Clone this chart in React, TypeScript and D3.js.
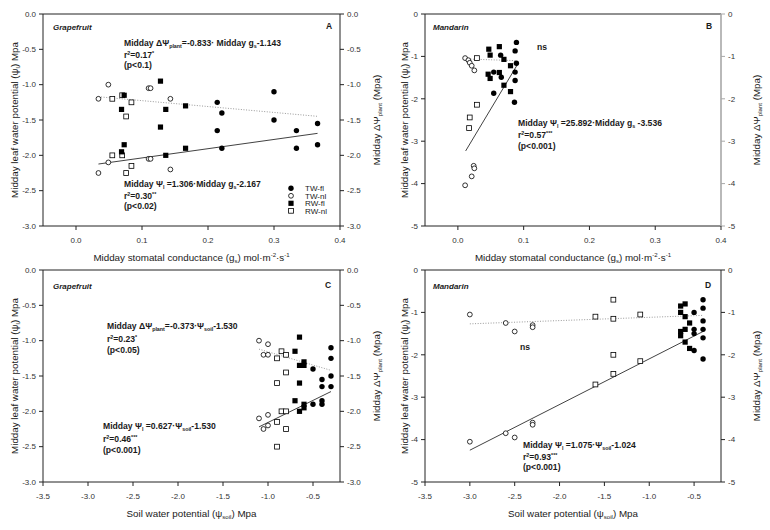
import React from "react";
import * as d3 from "d3";

type Pt = [number, number];

// ---------- axis ticks ----------
const gsTicks = [0, 0.1, 0.2, 0.3, 0.4];
const soilTicks = [-3.5, -3.0, -2.5, -2.0, -1.5, -1.0, -0.5];
const grapeYTicks = [0, -0.5, -1, -1.5, -2, -2.5, -3];
const mandYTicks = [0, -1, -2, -3, -4, -5];

// ---------- Panel A: Grapefruit vs midday gs ----------
const aTWfl: Pt[] = [[0.214, -1.25], [0.221, -1.4], [0.3, -1.1], [0.3, -1.5], [0.334, -1.65], [0.366, -1.55], [0.214, -1.65], [0.221, -1.9], [0.334, -1.9], [0.366, -1.85]];
const aTWnl: Pt[] = [[0.034, -1.2], [0.049, -1.0], [0.11, -1.05], [0.113, -1.05], [0.143, -1.2], [0.049, -2.1], [0.034, -2.25], [0.11, -2.05], [0.113, -2.05], [0.143, -2.2]];
const aRWfl: Pt[] = [[0.073, -1.15], [0.069, -1.35], [0.128, -0.95], [0.136, -1.35], [0.166, -1.3], [0.128, -1.6], [0.073, -1.85], [0.069, -1.95], [0.136, -2.0], [0.166, -1.9]];
const aRWnl: Pt[] = [[0.055, -1.2], [0.07, -1.15], [0.084, -1.25], [0.076, -1.45], [0.055, -2.0], [0.07, -2.0], [0.084, -2.15], [0.076, -2.25]];
const aFitSolid: Pt[] = [[0.034, -2.123], [0.366, -1.689]];
const aFitDotted: Pt[] = [[0.034, -1.171], [0.366, -1.448]];

// ---------- Panel B: Mandarin vs midday gs ----------
const bTWfl: Pt[] = [[0.089, -0.67], [0.087, -0.87], [0.089, -1.16], [0.087, -1.37], [0.087, -1.57], [0.086, -2.08], [0.065, -0.97], [0.066, -1.49], [0.0545, -1.37], [0.0545, -1.87]];
const bTWnl: Pt[] = [[0.011, -1.04], [0.016, -1.09], [0.018, -1.15], [0.021, -1.22], [0.025, -1.33], [0.024, -3.58], [0.025, -3.64], [0.021, -3.83], [0.011, -4.04]];
const bRWfl: Pt[] = [[0.047, -0.83], [0.049, -0.97], [0.063, -0.77], [0.07, -1.07], [0.08, -1.22], [0.046, -1.42], [0.049, -1.52], [0.063, -1.38], [0.07, -1.68], [0.08, -1.83]];
const bRWnl: Pt[] = [[0.029, -1.04], [0.029, -2.14], [0.018, -2.44], [0.017, -2.69]];
const bFitSolid: Pt[] = [[0.0118, -3.23], [0.0902, -1.2]];
const bFitDotted: Pt[] = [[0.011, -1.06], [0.089, -1.1]];

// ---------- Panel C: Grapefruit vs soil water potential ----------
const cTWfl: Pt[] = [[-0.3, -1.1], [-0.3, -1.25], [-0.5, -1.4], [-0.4, -1.55], [-0.4, -1.65], [-0.3, -1.5], [-0.3, -1.65], [-0.5, -1.9], [-0.4, -1.85], [-0.4, -1.9]];
const cTWnl: Pt[] = [[-1.1, -1.0], [-1.0, -1.05], [-1.05, -1.2], [-1.0, -1.2], [-1.1, -2.1], [-1.0, -2.05], [-1.05, -2.25], [-1.0, -2.2]];
const cRWfl: Pt[] = [[-0.65, -0.95], [-0.7, -1.15], [-0.65, -1.35], [-0.6, -1.3], [-0.6, -1.35], [-0.65, -1.6], [-0.7, -1.85], [-0.65, -2.0], [-0.6, -1.95], [-0.6, -1.9]];
const cRWnl: Pt[] = [[-0.9, -1.25], [-0.85, -1.15], [-0.8, -1.2], [-0.8, -1.45], [-0.9, -1.6], [-0.85, -2.0], [-0.8, -2.0], [-0.9, -2.15], [-0.8, -2.25], [-0.9, -2.5]];
const cFitSolid: Pt[] = [[-1.1, -2.22], [-0.3, -1.72]];
const cFitDotted: Pt[] = [[-1.1, -1.12], [-0.3, -1.42]];

// ---------- Panel D: Mandarin vs soil water potential ----------
const dTWfl: Pt[] = [[-0.4, -0.7], [-0.4, -0.9], [-0.5, -1.0], [-0.4, -1.2], [-0.5, -1.4], [-0.4, -1.4], [-0.5, -1.5], [-0.4, -1.6], [-0.5, -1.9], [-0.4, -2.1]];
const dTWnl: Pt[] = [[-3.0, -1.05], [-2.6, -1.25], [-2.5, -1.45], [-2.3, -1.3], [-2.3, -1.35], [-3.0, -4.05], [-2.6, -3.85], [-2.5, -3.95], [-2.3, -3.6], [-2.3, -3.65]];
const dRWfl: Pt[] = [[-0.65, -0.85], [-0.6, -0.8], [-0.65, -1.0], [-0.6, -1.1], [-0.55, -1.25], [-0.65, -1.45], [-0.6, -1.4], [-0.65, -1.55], [-0.6, -1.7], [-0.55, -1.85]];
const dRWnl: Pt[] = [[-1.6, -1.1], [-1.4, -0.7], [-1.4, -1.15], [-1.1, -1.05], [-1.4, -2.0], [-1.1, -2.15], [-1.6, -2.7], [-1.4, -2.45]];
const dFitSolid: Pt[] = [[-3.0, -4.25], [-0.4, -1.45]];
const dFitDotted: Pt[] = [[-3.0, -1.27], [-0.4, -1.07]];

const legendLabels = ["TW-fl", "TW-nl", "RW-fl", "RW-nl"];
const legendKinds = ["cf", "co", "sf", "so"];

const FONT = "'Liberation Sans', Arial, Helvetica, sans-serif";
const TXT = "#1a1a1a";

type Part = [string, string?];

function Rich({ x, y, parts, size, weight, italic, anchor, transform }: any) {
  return (
    <text x={x} y={y} fontSize={size} fontWeight={weight || "normal"} fontStyle={italic ? "italic" : "normal"}
      textAnchor={anchor || "start"} transform={transform} fill={TXT}>
      {(parts as Part[]).map(([t, m], i) =>
        m === "sub" ? (
          <tspan key={i} fontSize={size * 0.62} baselineShift={-size * 0.22}>{t}</tspan>
        ) : m === "sup" ? (
          <tspan key={i} fontSize={size * 0.62} baselineShift={size * 0.38}>{t}</tspan>
        ) : (
          <tspan key={i}>{t}</tspan>
        )
      )}
    </text>
  );
}

function Marker({ kind, cx, cy }: { kind: string; cx: number; cy: number }) {
  if (kind === "cf") return <circle cx={cx} cy={cy} r={2.7} fill="#000" />;
  if (kind === "co") return <circle cx={cx} cy={cy} r={2.4} fill="#fff" stroke="#000" strokeWidth={0.8} />;
  if (kind === "sf") return <rect x={cx - 2.6} y={cy - 2.6} width={5.2} height={5.2} fill="#000" />;
  return <rect x={cx - 2.4} y={cy - 2.4} width={4.8} height={4.8} fill="#fff" stroke="#000" strokeWidth={0.8} />;
}

function Panel(props: any) {
  const { left, top, width, height, xDomain, yDomain, xTicks, yTicks, xFmt, yFmt, series, solid, dotted, rightColor, xLabelY, leftTitleX, rightTitleX, xTitle, xTitleY } = props;
  const x = d3.scaleLinear().domain(xDomain).range([left, left + width]);
  const y = d3.scaleLinear().domain(yDomain).range([top + height, top]);
  const line = d3.line<Pt>().x((d) => x(d[0])).y((d) => y(d[1]));
  const right = left + width;
  const bottom = top + height;
  const axisCol = "#222";
  const midY = top + height / 2;
  return (
    <g>
      {/* frame */}
      <line x1={left} x2={right} y1={top} y2={top} stroke={axisCol} strokeWidth={1} />
      <line x1={left} x2={right} y1={bottom} y2={bottom} stroke={axisCol} strokeWidth={1} />
      <line x1={left} x2={left} y1={top} y2={bottom} stroke={axisCol} strokeWidth={1} />
      <line x1={right} x2={right} y1={top} y2={bottom} stroke={rightColor || axisCol} strokeWidth={rightColor ? 1.6 : 1} />
      {/* y ticks left & right */}
      {yTicks.map((t: number) => (
        <g key={"y" + t}>
          <line x1={left - 4} x2={left} y1={y(t)} y2={y(t)} stroke={axisCol} />
          <text x={left - 7} y={y(t)} dy="0.35em" textAnchor="end" fontSize={8} fill="#333">{yFmt(t)}</text>
          <line x1={right} x2={right + 4} y1={y(t)} y2={y(t)} stroke={rightColor || axisCol} />
          <text x={right + 7} y={y(t)} dy="0.35em" textAnchor="start" fontSize={8} fill="#333">{yFmt(t)}</text>
        </g>
      ))}
      {xTicks.map((t: number) => (
        <g key={"x" + t}>
          <line x1={x(t)} x2={x(t)} y1={bottom} y2={bottom + 4} stroke={axisCol} />
          <text x={x(t)} y={xLabelY} dy="0.35em" textAnchor="middle" fontSize={8} fill="#333">{xFmt(t)}</text>
        </g>
      ))}
      {/* fit lines */}
      <path d={line(dotted) || ""} fill="none" stroke="#9a9a9a" strokeWidth={1} strokeDasharray="1,1.6" />
      <path d={line(solid) || ""} fill="none" stroke="#111" strokeWidth={0.8} />
      {/* points */}
      {series.map((s: any, si: number) =>
        s.pts.map((p: Pt, i: number) => <Marker key={si + "-" + i} kind={s.kind} cx={x(p[0])} cy={y(p[1])} />)
      )}
      {/* axis titles */}
      <Rich x={0} y={0} size={9.8} transform={`translate(${leftTitleX},${midY}) rotate(-90)`} anchor="middle"
        parts={[["Midday leaf water potential (ψ"], ["l", "sub"], [") Mpa"]]} />
      <Rich x={0} y={0} size={9.8} transform={`translate(${rightTitleX},${midY}) rotate(-90)`} anchor="middle"
        parts={[["Midday ΔΨ"], ["plant", "sub"], [" (Mpa)"]]} />
      <Rich x={left + width / 2} y={xTitleY} size={9.8} anchor="middle" parts={xTitle} />
      {props.children}
    </g>
  );
}

const hyphen = (s: string) => s.replace(/\u2212/g, "-");
const fmt1 = (v: number) => hyphen(d3.format(".1f")(v));
const fmt0 = (v: number) => hyphen(d3.format("d")(v));
const gsTitle: Part[] = [["Midday stomatal conductance (g"], ["s", "sub"], [") mol·m"], ["-2", "sup"], ["·s"], ["-1", "sup"]];
const soilTitle: Part[] = [["Soil water potential (ψ"], ["soil", "sub"], [") Mpa"]];

export default function App() {
  const W = 770, H = 530;
  const eq = 8.6;
  return (
    <div style={{ position: "absolute", left: 0, top: 0, background: "#fff" }}>
      <svg width={W} height={H} viewBox={`0 0 ${W} ${H}`} style={{ display: "block", fontFamily: FONT }}>
        <rect width={W} height={H} fill="#fff" />
        {/* Panel A */}
        <Panel left={43} top={14} width={297} height={212} xDomain={[-0.05, 0.4]} yDomain={[-3, 0]}
          xTicks={gsTicks} yTicks={grapeYTicks} xFmt={fmt1} yFmt={fmt1}
          series={[{ kind: "co", pts: aTWnl }, { kind: "so", pts: aRWnl }, { kind: "sf", pts: aRWfl }, { kind: "cf", pts: aTWfl }]}
          solid={aFitSolid} dotted={aFitDotted} xLabelY={240} xTitleY={261} xTitle={gsTitle}
          leftTitleX={18} rightTitleX={380}>
          <text x={53} y={30} fontSize={8} fontWeight="bold" fontStyle="italic" fill={TXT}>Grapefruit</text>
          <text x={329} y={29} fontSize={8.5} fontWeight="bold" textAnchor="middle" fill={TXT}>A</text>
          <Rich x={124} y={45.5} size={eq} weight="bold" parts={[["Midday ΔΨ"], ["plant", "sub"], ["=-0.833· Midday g"], ["s", "sub"], ["-1.143"]]} />
          <Rich x={124} y={57.5} size={eq} weight="bold" parts={[["r"], ["2", "sup"], ["=0.17"], ["*", "sup"]]} />
          <Rich x={124} y={67.5} size={eq} weight="bold" parts={[["(p<0.1)"]]} />
          <Rich x={124} y={187} size={eq} weight="bold" parts={[["Midday Ψ"], ["l", "sub"], [" =1.306·Midday g"], ["s", "sub"], ["-2.167"]]} />
          <Rich x={124} y={199} size={eq} weight="bold" parts={[["r"], ["2", "sup"], ["=0.30"], ["**", "sup"]]} />
          <Rich x={124} y={209} size={eq} weight="bold" parts={[["(p<0.02)"]]} />
          {legendLabels.map((lab, i) => (
            <g key={lab}>
              <Marker kind={legendKinds[i]} cx={291} cy={188.3 + i * 7.5} />
              <text x={305} y={188.3 + i * 7.5} dy="0.35em" fontSize={8} fill={TXT}>{lab}</text>
            </g>
          ))}
        </Panel>
        {/* Panel B */}
        <Panel left={425} top={14} width={296} height={212} xDomain={[-0.05, 0.4]} yDomain={[-5, 0]}
          xTicks={gsTicks} yTicks={mandYTicks} xFmt={fmt1} yFmt={fmt0} rightColor="#a8a8a8"
          series={[{ kind: "co", pts: bTWnl }, { kind: "so", pts: bRWnl }, { kind: "sf", pts: bRWfl }, { kind: "cf", pts: bTWfl }]}
          solid={bFitSolid} dotted={bFitDotted} xLabelY={240} xTitleY={261} xTitle={gsTitle}
          leftTitleX={408} rightTitleX={760}>
          <text x={433} y={30} fontSize={8} fontWeight="bold" fontStyle="italic" fill={TXT}>Mandarin</text>
          <text x={709} y={29} fontSize={8.5} fontWeight="bold" textAnchor="middle" fill={TXT}>B</text>
          <text x={537} y={50} fontSize={eq} fontWeight="bold" fill={TXT}>ns</text>
          <Rich x={518} y={125.5} size={eq} weight="bold" parts={[["Midday Ψ"], ["l", "sub"], [" =25.892·Midday g"], ["s", "sub"], [" -3.536"]]} />
          <Rich x={518} y={138} size={eq} weight="bold" parts={[["r"], ["2", "sup"], ["=0.57"], ["***", "sup"]]} />
          <Rich x={518} y={148.5} size={eq} weight="bold" parts={[["(p<0.001)"]]} />
        </Panel>
        {/* Panel C */}
        <Panel left={43} top={270} width={297} height={212} xDomain={[-3.5, -0.2]} yDomain={[-3, 0]}
          xTicks={soilTicks} yTicks={grapeYTicks} xFmt={fmt1} yFmt={fmt1}
          series={[{ kind: "co", pts: cTWnl }, { kind: "so", pts: cRWnl }, { kind: "sf", pts: cRWfl }, { kind: "cf", pts: cTWfl }]}
          solid={cFitSolid} dotted={cFitDotted} xLabelY={496} xTitleY={517} xTitle={soilTitle}
          leftTitleX={18} rightTitleX={380}>
          <text x={53} y={289} fontSize={8} fontWeight="bold" fontStyle="italic" fill={TXT}>Grapefruit</text>
          <text x={328} y={288} fontSize={8.5} fontWeight="bold" textAnchor="middle" fill={TXT}>C</text>
          <Rich x={107} y={329} size={eq} weight="bold" parts={[["Midday ΔΨ"], ["plant", "sub"], ["=-0.373·Ψ"], ["soil", "sub"], ["-1.530"]]} />
          <Rich x={107} y={342} size={eq} weight="bold" parts={[["r"], ["2", "sup"], ["=0.23"], ["*", "sup"]]} />
          <Rich x={107} y={352.5} size={eq} weight="bold" parts={[["(p<0.05)"]]} />
          <Rich x={103} y={429} size={eq} weight="bold" parts={[["Midday Ψ"], ["l", "sub"], [" =0.627·Ψ"], ["soil", "sub"], ["-1.530"]]} />
          <Rich x={103} y={442} size={eq} weight="bold" parts={[["r"], ["2", "sup"], ["=0.46"], ["***", "sup"]]} />
          <Rich x={103} y={453} size={eq} weight="bold" parts={[["(p<0.001)"]]} />
        </Panel>
        {/* Panel D */}
        <Panel left={425} top={270} width={296} height={212} xDomain={[-3.5, -0.2]} yDomain={[-5, 0]}
          xTicks={soilTicks} yTicks={mandYTicks} xFmt={fmt1} yFmt={fmt0}
          series={[{ kind: "co", pts: dTWnl }, { kind: "so", pts: dRWnl }, { kind: "sf", pts: dRWfl }, { kind: "cf", pts: dTWfl }]}
          solid={dFitSolid} dotted={dFitDotted} xLabelY={496} xTitleY={517} xTitle={soilTitle}
          leftTitleX={408} rightTitleX={760}>
          <text x={433} y={289} fontSize={8} fontWeight="bold" fontStyle="italic" fill={TXT}>Mandarin</text>
          <text x={708} y={288} fontSize={8.5} fontWeight="bold" textAnchor="middle" fill={TXT}>D</text>
          <text x={520} y={350} fontSize={eq} fontWeight="bold" fill={TXT}>ns</text>
          <Rich x={523} y={447.5} size={eq} weight="bold" parts={[["Midday Ψ"], ["l", "sub"], [" =1.075·Ψ"], ["soil", "sub"], ["-1.024"]]} />
          <Rich x={523} y={460} size={eq} weight="bold" parts={[["r"], ["2", "sup"], ["=0.93"], ["***", "sup"]]} />
          <Rich x={523} y={470} size={eq} weight="bold" parts={[["(p<0.001)"]]} />
        </Panel>
      </svg>
    </div>
  );
}
